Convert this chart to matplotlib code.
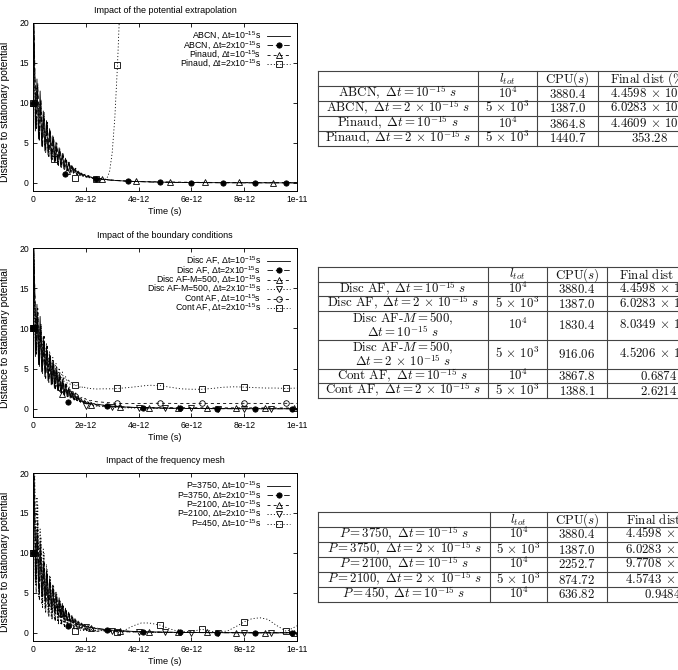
import numpy as np
import matplotlib
matplotlib.use('Agg')
import matplotlib.pyplot as plt
from matplotlib.lines import Line2D

plt.rcParams['font.family'] = ['Liberation Sans', 'DejaVu Sans']
plt.rcParams['mathtext.fontset'] = 'custom'
plt.rcParams['mathtext.rm'] = 'Liberation Sans'
plt.rcParams['mathtext.it'] = 'Liberation Sans:italic'
plt.rcParams['mathtext.bf'] = 'Liberation Sans:bold'
plt.rcParams['lines.scale_dashes'] = False

# ---------------- data (time in ps) ----------------
T_OSC = [0.00, 0.03, 0.09, 0.15, 0.21, 0.27, 0.33, 0.39, 0.45, 0.51, 0.57, 0.63, 0.69, 0.75,
         0.81, 0.87, 0.93, 0.99, 1.05, 1.11, 1.17, 1.23, 1.29, 1.35, 1.41, 1.47, 1.53, 1.59,
         1.65, 1.71, 1.77, 1.83, 1.89, 1.95, 2.01, 2.07, 2.13, 2.19, 2.25, 2.31, 2.37, 2.43]
T_OSC_B = [0.00, 0.02, 0.06, 0.12, 0.18, 0.24, 0.30, 0.36, 0.42, 0.48, 0.54, 0.60, 0.66, 0.72,
           0.78, 0.84, 0.90, 0.96, 1.02, 1.08, 1.14, 1.20, 1.26, 1.32, 1.38, 1.44, 1.50, 1.56,
           1.62, 1.68, 1.74, 1.80, 1.86, 1.92, 1.98, 2.04, 2.10, 2.16, 2.22, 2.28, 2.34, 2.40]
T_TAIL = [2.6, 2.8, 3.0, 3.4, 3.8, 4.4, 5.0, 6.0, 7.0, 8.0, 9.0, 10.0]

# ABCN / Disc AF / P=3750, dt=1e-15
A1 = [10, 22, 6.5, 13, 5.5, 11.5, 4.6, 9, 4.0, 7.8, 3.5, 6.8, 3.0, 5.9, 2.6, 5.1, 2.3, 4.4, 2.0, 3.7,
      1.75, 3.1, 1.55, 2.6, 1.35, 2.2, 1.2, 1.8, 1.05, 1.5, 0.92, 1.25, 0.82, 1.05, 0.72, 0.9, 0.64,
      0.78, 0.58, 0.68, 0.52, 0.6]
A1_TAIL = [0.5, 0.42, 0.35, 0.26, 0.2, 0.14, 0.1, 0.06, 0.04, 0.03, 0.02, 0.02]
# ABCN / Disc AF / P=3750, dt=2e-15
A2 = [10, 20.5, 16, 6.8, 12, 5.2, 10, 4.4, 8.4, 3.8, 7.3, 3.3, 6.3, 2.9, 5.5, 2.5, 4.7, 2.2, 4.0, 1.95,
      3.4, 1.7, 2.8, 1.5, 2.4, 1.3, 2.0, 1.15, 1.65, 1.0, 1.38, 0.88, 1.15, 0.78, 0.98, 0.7, 0.84, 0.62,
      0.72, 0.56, 0.64, 0.5]
A2_TAIL = [0.48, 0.4, 0.33, 0.25, 0.19, 0.13, 0.09, 0.05, 0.03, 0.02, 0.02, 0.02]
A2_MK_T1 = [0, 1.2, 2.4, 3.6, 4.8, 6.0, 7.2, 8.4, 9.6]
A2_MK_Y1 = [10, 1.15, 0.55, 0.22, 0.12, 0.06, 0.04, 0.03, 0.02]
A2_MK_T2 = [0, 1.34, 2.79, 4.18, 5.57, 6.98, 8.41, 9.8]
A2_MK_Y2 = [10, 0.85, 0.35, 0.15, 0.07, 0.04, 0.03, 0.02]

# Pinaud dt=1e-15
PIN1 = [10, 21, 15, 7, 12.5, 5.8, 10.5, 5.0, 8.8, 4.3, 7.6, 3.8, 6.6, 3.3, 5.8, 2.9, 5.0, 2.6, 4.3, 2.3,
        3.7, 2.0, 3.1, 1.8, 2.6, 1.6, 2.2, 1.4, 1.85, 1.25, 1.55, 1.1, 1.3, 0.98, 1.1, 0.88, 0.95, 0.78,
        0.82, 0.7, 0.72, 0.62]
PIN1_TAIL = [0.52, 0.44, 0.37, 0.28, 0.22, 0.17, 0.13, 0.09, 0.07, 0.06, 0.05, 0.05]
PIN1_MK_T = [0, 1.3, 2.6, 3.9, 5.2, 6.5, 7.8, 9.1]
PIN1_MK_Y = [10, 1.5, 0.5, 0.2, 0.13, 0.09, 0.07, 0.05]
# Pinaud dt=2e-15 (diverges)
PIN2 = [10, 19, 7.5, 12, 6, 10, 5.2, 8.5, 4.6, 7.2, 4.0, 6.2, 3.6, 5.3, 3.2, 4.6, 2.9, 4.0, 2.6, 3.4,
        2.3, 2.9, 2.0, 2.5, 1.75, 2.1, 1.5, 1.75, 1.3, 1.45, 1.1, 1.2, 0.95, 1.0, 0.82, 0.85, 0.72, 0.72,
        0.62, 0.6, 0.55, 0.5]
PIN2_TAIL_T = [2.55, 2.7, 2.8, 2.9, 3.0, 3.1, 3.2, 3.3]
PIN2_TAIL = [0.45, 0.42, 0.6, 1.4, 3.8, 8.2, 14.7, 23.0]
PIN2_MK_T = [0, 0.8, 1.6, 2.4, 3.2]
PIN2_MK_Y = [10, 3.0, 0.6, 0.5, 14.7]

# Disc AF-M=500
M1 = [10, 20, 16, 7.5, 12.5, 6, 10.5, 5, 9, 4.2, 7.7, 3.6, 6.6, 3.1, 5.6, 2.7, 4.8, 2.3, 4.1, 2.0,
      3.5, 1.75, 2.9, 1.5, 2.4, 1.3, 2.0, 1.1, 1.65, 0.95, 1.35, 0.82, 1.1, 0.7, 0.9, 0.6, 0.75, 0.52,
      0.62, 0.45, 0.52, 0.4]
M1_TAIL = [0.36, 0.31, 0.27, 0.22, 0.19, 0.17, 0.16, 0.15, 0.14, 0.13, 0.13, 0.12]
M1_MK_T = [0, 1.1, 2.2, 3.3, 4.4, 5.5, 6.6, 7.7, 8.8, 9.9]
M1_MK_Y = [10, 1.9, 0.55, 0.27, 0.17, 0.16, 0.15, 0.14, 0.13, 0.12]
M2 = [10, 19, 8, 11, 6.8, 9.5, 5.8, 8.2, 5.0, 7.0, 4.3, 6.0, 3.7, 5.2, 3.2, 4.5, 2.8, 3.9, 2.4, 3.3,
      2.1, 2.8, 1.8, 2.4, 1.55, 2.0, 1.3, 1.65, 1.1, 1.35, 0.9, 1.1, 0.75, 0.9, 0.62, 0.72, 0.5, 0.58,
      0.42, 0.46, 0.35, 0.38]
M2_TAIL = [0.3, 0.25, 0.2, 0.15, 0.12, 0.09, 0.07, 0.06, 0.05, 0.05, 0.05, 0.05]
M2_MK_T = [0, 1.0, 2.0, 3.0, 4.0, 5.0, 6.0, 7.0, 8.0, 9.0]
M2_MK_Y = [10, 2.6, 0.4, 0.22, 0.12, 0.08, 0.06, 0.05, 0.05, 0.05]

# Cont AF
C1 = [10, 19, 15, 7, 12, 6, 10.5, 5.2, 9, 4.6, 7.8, 4.0, 6.8, 3.5, 6.0, 3.1, 5.2, 2.8, 4.5, 2.5,
      3.9, 2.2, 3.3, 2.0, 2.8, 1.8, 2.4, 1.6, 2.0, 1.45, 1.7, 1.3, 1.45, 1.2, 1.3, 1.1, 1.15, 1.0,
      1.05, 0.95, 0.95, 0.9]
C1_TAIL_T = [2.6, 3.0, 3.2, 3.6, 4.0, 4.8, 5.6, 6.4, 7.2, 8.0, 8.8, 9.6, 10.0]
C1_TAIL = [0.85, 0.74, 0.68, 0.66, 0.68, 0.71, 0.68, 0.7, 0.67, 0.7, 0.68, 0.7, 0.69]
C1_MK_T = [0, 1.6, 3.2, 4.8, 6.4, 8.0, 9.6]
C1_MK_Y = [10, 1.6, 0.68, 0.71, 0.7, 0.7, 0.7]
C2 = [10, 18, 9, 11.5, 7.5, 10.2, 6.5, 9.0, 5.8, 8.2, 5.2, 7.2, 4.7, 6.4, 4.3, 5.7, 3.9, 5.1, 3.6, 4.6,
      3.4, 4.1, 3.2, 3.7, 3.0, 3.4, 2.9, 3.1, 2.8, 3.0, 2.7, 2.85, 2.6, 2.7, 2.55, 2.6, 2.5, 2.55,
      2.5, 2.5, 2.48, 2.48]
C2_TAIL_T = [2.6, 3.0, 3.2, 3.6, 4.0, 4.4, 4.8, 5.2, 5.6, 6.0, 6.4, 6.8, 7.2, 7.6, 8.0, 8.4, 8.8,
             9.2, 9.6, 10.0]
C2_TAIL = [2.5, 2.5, 2.55, 2.65, 2.8, 2.95, 2.9, 2.7, 2.5, 2.45, 2.45, 2.55, 2.7, 2.75, 2.72, 2.65,
           2.6, 2.6, 2.55, 2.6]
C2_MK_T = [0, 1.6, 3.2, 4.8, 6.4, 8.0, 9.6]
C2_MK_Y = [10, 3.0, 2.55, 2.9, 2.45, 2.72, 2.55]

# Frequency mesh P=2100, P=450
P21 = [10, 22, 19, 5, 14, 4, 11, 3.2, 9, 2.6, 7.4, 2.1, 6.3, 1.7, 5.3, 1.4, 4.4, 1.15, 3.6, 0.95,
       3.0, 0.8, 2.5, 0.65, 2.0, 0.55, 1.6, 0.47, 1.3, 0.4, 1.05, 0.35, 0.85, 0.3, 0.7, 0.27, 0.58,
       0.25, 0.48, 0.22, 0.42, 0.2]
P21_TAIL = [0.3, 0.25, 0.2, 0.16, 0.13, 0.11, 0.1, 0.08, 0.06, 0.05, 0.05, 0.05]
P21_MK_T = [0, 1.1, 2.2, 3.3, 4.4, 5.5, 6.6, 7.7, 8.8, 9.9]
P21_MK_Y = [10, 2.5, 0.6, 0.25, 0.12, 0.1, 0.08, 0.06, 0.05, 0.05]
P22 = [10, 21, 6, 17, 4.5, 13, 3.6, 10.5, 3.0, 8.6, 2.4, 7.2, 2.0, 6.1, 1.7, 5.1, 1.4, 4.2, 1.2, 3.5,
       1.0, 2.9, 0.85, 2.4, 0.7, 1.95, 0.6, 1.6, 0.5, 1.3, 0.45, 1.05, 0.4, 0.88, 0.35, 0.72, 0.3,
       0.6, 0.28, 0.5, 0.25, 0.44]
P22_TAIL = [0.35, 0.28, 0.22, 0.17, 0.13, 0.1, 0.08, 0.06, 0.05, 0.04, 0.04, 0.04]
P22_MK_T = [0, 1.0, 2.0, 3.0, 4.0, 5.0, 6.0, 7.0, 8.0, 9.0]
P22_MK_Y = [10, 3.0, 0.8, 0.25, 0.1, 0.08, 0.06, 0.05, 0.04, 0.04]
P45 = [10, 23, 21, 6, 16, 4.5, 12, 3.5, 10, 2.8, 8, 2.2, 7, 1.8, 6, 1.5, 4.8, 1.2, 4.0, 1.0, 3.3,
       0.8, 2.7, 0.65, 2.2, 0.55, 1.8, 0.45, 1.4, 0.38, 1.1, 0.32, 0.9, 0.28, 0.7, 0.25, 0.55, 0.22,
       0.45, 0.2, 0.38, 0.2]
P45_TAIL_T = [2.6, 3.0, 3.2, 3.5, 3.8, 4.1, 4.4, 4.8, 5.2, 5.6, 6.0, 6.4, 6.8, 7.0, 7.4, 7.8, 8.0,
              8.3, 8.6, 8.9, 9.2, 9.6, 10.0]
P45_TAIL = [0.3, 0.15, 0.1, 0.4, 0.9, 1.25, 1.25, 1.0, 0.5, 0.12, 0.2, 0.45, 0.2, 0.05, 0.3, 1.0,
            1.4, 1.8, 1.9, 1.7, 1.0, 0.2, 0.9]
P45_MK_T = [0, 1.6, 3.2, 4.8, 6.4, 8.0, 9.6]
P45_MK_Y = [10, 0.3, 0.1, 1.0, 0.45, 1.4, 0.2]

TITLES = ['Impact of the potential extrapolation', 'Impact of the boundary conditions',
          'Impact of the frequency mesh']
LEG1 = ['ABCN, Δt=10$^{-15}$s', 'ABCN, Δt=2x10$^{-15}$s', 'Pinaud, Δt=10$^{-15}$s',
        'Pinaud, Δt=2x10$^{-15}$s']
LEG2 = ['Disc AF, Δt=10$^{-15}$s', 'Disc AF, Δt=2x10$^{-15}$s', 'Disc AF-M=500, Δt=10$^{-15}$s',
        'Disc AF-M=500, Δt=2x10$^{-15}$s', 'Cont AF, Δt=10$^{-15}$s', 'Cont AF, Δt=2x10$^{-15}$s']
LEG3 = ['P=3750, Δt=10$^{-15}$s', 'P=3750, Δt=2x10$^{-15}$s', 'P=2100, Δt=10$^{-15}$s',
        'P=2100, Δt=2x10$^{-15}$s', 'P=450, Δt=10$^{-15}$s']
XTICKS = [0, 2e-12, 4e-12, 6e-12, 8e-12, 1e-11]
XTICK_LABELS = ['0', '2e-12', '4e-12', '6e-12', '8e-12', '1e-11']
YTICKS = [0, 5, 10, 15, 20]

TAB_HEADER = ['', r'$l_{tot}$', r'$\mathrm{CPU}(s)$', r'$\mathrm{Final\ dist\ (\%)}$']
TAB1 = [
    [[r'$\mathrm{ABCN,}\ \Delta t = 10^{-15}\ s$'], [r'$10^4$'], [r'$\mathrm{3880.4}$'], [r'$4.4598\,\times\,10^{-3}$']],
    [[r'$\mathrm{ABCN,}\ \Delta t = 2\,\times\,10^{-15}\ s$'], [r'$5\,\times\,10^3$'], [r'$\mathrm{1387.0}$'], [r'$6.0283\,\times\,10^{-3}$']],
    [[r'$\mathrm{Pinaud,}\ \Delta t = 10^{-15}\ s$'], [r'$10^4$'], [r'$\mathrm{3864.8}$'], [r'$4.4609\,\times\,10^{-3}$']],
    [[r'$\mathrm{Pinaud,}\ \Delta t = 2\,\times\,10^{-15}\ s$'], [r'$5\,\times\,10^3$'], [r'$\mathrm{1440.7}$'], [r'$\mathrm{353.28}$']],
]
TAB2 = [
    [[r'$\mathrm{Disc\ AF,}\ \Delta t = 10^{-15}\ s$'], [r'$10^4$'], [r'$\mathrm{3880.4}$'], [r'$4.4598\,\times\,10^{-3}$']],
    [[r'$\mathrm{Disc\ AF,}\ \Delta t = 2\,\times\,10^{-15}\ s$'], [r'$5\,\times\,10^3$'], [r'$\mathrm{1387.0}$'], [r'$6.0283\,\times\,10^{-3}$']],
    [[r'$\mathrm{Disc\ AF}\text{-}M = 500,$', r'$\Delta t = 10^{-15}\ s$'], [r'$10^4$'], [r'$\mathrm{1830.4}$'], [r'$8.0349\,\times\,10^{-3}$']],
    [[r'$\mathrm{Disc\ AF}\text{-}M = 500,$', r'$\Delta t = 2\,\times\,10^{-15}\ s$'], [r'$5\,\times\,10^3$'], [r'$\mathrm{916.06}$'], [r'$4.5206\,\times\,10^{-3}$']],
    [[r'$\mathrm{Cont\ AF,}\ \Delta t = 10^{-15}\ s$'], [r'$10^4$'], [r'$\mathrm{3867.8}$'], [r'$\mathrm{0.6874}$']],
    [[r'$\mathrm{Cont\ AF,}\ \Delta t = 2\,\times\,10^{-15}\ s$'], [r'$5\,\times\,10^3$'], [r'$\mathrm{1388.1}$'], [r'$\mathrm{2.6214}$']],
]
TAB3 = [
    [[r'$P = 3750,\ \Delta t = 10^{-15}\ s$'], [r'$10^4$'], [r'$\mathrm{3880.4}$'], [r'$4.4598\,\times\,10^{-3}$']],
    [[r'$P = 3750,\ \Delta t = 2\,\times\,10^{-15}\ s$'], [r'$5\,\times\,10^3$'], [r'$\mathrm{1387.0}$'], [r'$6.0283\,\times\,10^{-3}$']],
    [[r'$P = 2100,\ \Delta t = 10^{-15}\ s$'], [r'$10^4$'], [r'$\mathrm{2252.7}$'], [r'$9.7708\,\times\,10^{-3}$']],
    [[r'$P = 2100,\ \Delta t = 2\,\times\,10^{-15}\ s$'], [r'$5\,\times\,10^3$'], [r'$\mathrm{874.72}$'], [r'$4.5743\,\times\,10^{-3}$']],
    [[r'$P = 450,\ \Delta t = 10^{-15}\ s$'], [r'$10^4$'], [r'$\mathrm{636.82}$'], [r'$\mathrm{0.94840}$']],
]

# ---------------- styles ----------------
LW = 0.6
STY = {
    'solid': dict(ls='-', marker=None, mfc='k', ms=0),
    'dash_circle': dict(ls=(0, (4.0, 2.0)), marker='o', mfc='k', ms=3.8),
    'dash_tri': dict(ls=(0, (2.2, 2.2)), marker='^', mfc='none', ms=4.3),
    'dot_vtri': dict(ls=(0, (0.8, 1.5)), marker='v', mfc='none', ms=4.3),
    'dash_ocircle': dict(ls=(0, (2.2, 2.2)), marker='o', mfc='none', ms=4.0),
    'dot_square': dict(ls=(0, (0.8, 1.5)), marker='s', mfc='none', ms=3.8),
}

fig = plt.figure(figsize=(6.78, 6.70), dpi=100)
tab = fig.add_axes([0, 0, 1, 1])
tab.set_xlim(0, 678)
tab.set_ylim(670, 0)
tab.axis('off')

FS = 6.3


def panel(rect, title, curves, labels):
    ax = fig.add_axes(rect)
    handles = []
    for (t, y, tm, ym, sty), lab in zip(curves, labels):
        s = STY[sty]
        ax.plot(np.array(t) * 1e-12, y, color='k', lw=LW, ls=s['ls'])
        if tm is not None:
            ax.plot(np.array(tm) * 1e-12, ym, ls='none', marker=s['marker'], mfc=s['mfc'],
                    mec='k', mew=0.6, ms=s['ms'], clip_on=False, zorder=3)
        handles.append(Line2D([], [], color='k', lw=LW, ls=s['ls'], marker=s['marker'],
                              mfc=s['mfc'], mec='k', mew=0.6, ms=s['ms']))
    ax.set_xlim(0, 1e-11)
    ax.set_ylim(-1, 20)
    ax.set_xticks(XTICKS)
    ax.set_xticklabels(XTICK_LABELS)
    ax.set_yticks(YTICKS)
    ax.tick_params(direction='in', top=True, right=True, length=3, width=0.6,
                   labelsize=6.2, pad=3)
    for sp in ax.spines.values():
        sp.set_linewidth(0.7)
    ax.set_title(title, fontsize=6.5, pad=7)
    ax.set_xlabel('Time (s)', fontsize=6.6, labelpad=2)
    ax.set_ylabel('Distance to stationary potential', fontsize=7.4)
    ax.yaxis.set_label_coords(-0.088, 0.47)
    ax.legend(handles, labels, loc='upper right', frameon=False, markerfirst=False,
              fontsize=FS, handlelength=2.6, labelspacing=-0.3, borderaxespad=0.5,
              handletextpad=0.7, borderpad=0.3)
    return ax


L, W = 33 / 678, 264 / 678
panel([L, 1 - 191 / 670, W, 168 / 670], TITLES[0], [
    (T_OSC + T_TAIL, A1 + A1_TAIL, None, None, 'solid'),
    (T_OSC_B + T_TAIL, A2 + A2_TAIL, A2_MK_T1, A2_MK_Y1, 'dash_circle'),
    (T_OSC_B + T_TAIL, PIN1 + PIN1_TAIL, PIN1_MK_T, PIN1_MK_Y, 'dash_tri'),
    (T_OSC + PIN2_TAIL_T, PIN2 + PIN2_TAIL, PIN2_MK_T, PIN2_MK_Y, 'dot_square'),
], LEG1)

panel([L, 1 - 417 / 670, W, 169 / 670], TITLES[1], [
    (T_OSC + T_TAIL, A1 + A1_TAIL, None, None, 'solid'),
    (T_OSC_B + T_TAIL, A2 + A2_TAIL, A2_MK_T2, A2_MK_Y2, 'dash_circle'),
    (T_OSC_B + T_TAIL, M1 + M1_TAIL, M1_MK_T, M1_MK_Y, 'dash_tri'),
    (T_OSC + T_TAIL, M2 + M2_TAIL, M2_MK_T, M2_MK_Y, 'dot_vtri'),
    (T_OSC_B + C1_TAIL_T, C1 + C1_TAIL, C1_MK_T, C1_MK_Y, 'dash_ocircle'),
    (T_OSC + C2_TAIL_T, C2 + C2_TAIL, C2_MK_T, C2_MK_Y, 'dot_square'),
], LEG2)

panel([L, 1 - 641 / 670, W, 168 / 670], TITLES[2], [
    (T_OSC + T_TAIL, A1 + A1_TAIL, None, None, 'solid'),
    (T_OSC_B + T_TAIL, A2 + A2_TAIL, A2_MK_T2, A2_MK_Y2, 'dash_circle'),
    (T_OSC_B + T_TAIL, P21 + P21_TAIL, P21_MK_T, P21_MK_Y, 'dash_tri'),
    (T_OSC + T_TAIL, P22 + P22_TAIL, P22_MK_T, P22_MK_Y, 'dot_vtri'),
    (T_OSC_B + P45_TAIL_T, P45 + P45_TAIL, P45_MK_T, P45_MK_Y, 'dot_square'),
], LEG3)

TFS = 9.3
LINE_C = '#444444'


def draw_table(cols, top, heights, rows):
    all_rows = [[[h] if h else [] for h in TAB_HEADER]] + rows
    ys = [top]
    for h in heights:
        ys.append(ys[-1] + h)
    for y in ys:
        tab.plot([cols[0], cols[-1]], [y, y], color=LINE_C, lw=0.8)
    for x in cols:
        tab.plot([x, x], [ys[0], ys[-1]], color=LINE_C, lw=0.8)
    for r, row in enumerate(all_rows):
        yc = (ys[r] + ys[r + 1]) / 2
        for c, lines in enumerate(row):
            xc = (cols[c] + cols[c + 1]) / 2
            n = len(lines)
            for i, s in enumerate(lines):
                yb = yc + (i - (n - 1) / 2) * 14.5 + 4.0
                tab.text(xc, yb, s, ha='center', va='baseline', fontsize=TFS,
                         math_fontfamily='cm', color='#111111')


draw_table([318, 478, 537, 598, 702], 71, [15] * 5, TAB1)
draw_table([318, 488, 547, 607, 711], 267, [14.6, 14.6, 14.6, 29, 29, 14.6, 14.6], TAB2)
draw_table([318, 490, 547, 607, 724], 512, [15] * 6, TAB3)

fig.savefig('out.png', dpi=100)
